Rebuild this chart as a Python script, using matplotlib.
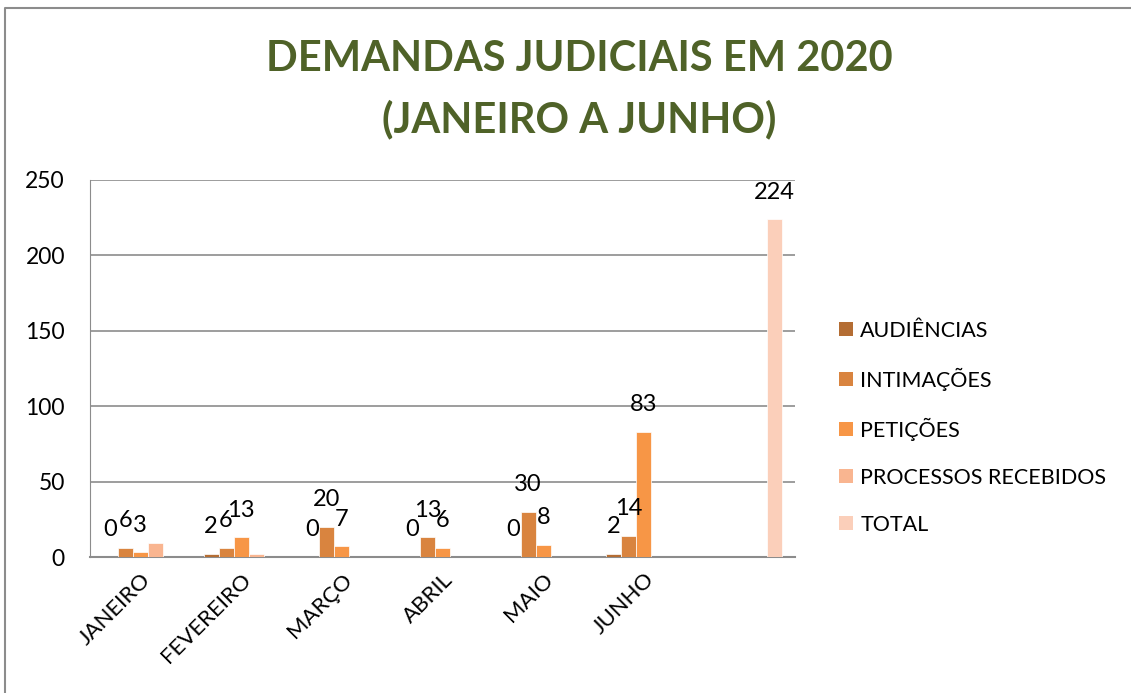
import numpy as np
import matplotlib
matplotlib.use("Agg")
import matplotlib.pyplot as plt
from matplotlib.patches import Patch
from matplotlib.lines import Line2D

plt.rcParams['font.family'] = ['Lato', 'DejaVu Sans']

categories = ["JANEIRO", "FEVEREIRO", "MARÇO", "ABRIL", "MAIO", "JUNHO", ""]
series_names = ["AUDIÊNCIAS", "INTIMAÇÕES", "PETIÇÕES", "PROCESSOS RECEBIDOS", "TOTAL"]
audiencias = [0, 2, 0, 0, 0, 2, np.nan]
intimacoes = [6, 6, 20, 13, 30, 14, np.nan]
peticoes = [3, 13, 7, 6, 8, 83, np.nan]
processos = [9, 2, np.nan, np.nan, np.nan, np.nan, np.nan]
total = [np.nan, np.nan, np.nan, np.nan, np.nan, np.nan, 224]
labeled = [True, True, True, False, True]
colors = ["#B46D33", "#D9843F", "#F79646", "#F9B590", "#FBCFBA"]
yticks = [0, 50, 100, 150, 200, 250]

W, H = 1131, 693
fig = plt.figure(figsize=(W / 100, H / 100), dpi=100)
ax = fig.add_axes([90 / W, (H - 557) / H, (795 - 90) / W, (557 - 180) / H])

data = [audiencias, intimacoes, peticoes, processos, total]
x = np.arange(len(categories))
bw = 0.149
for i, (vals, name, c) in enumerate(zip(data, series_names, colors)):
    pos = x + (i - 2) * bw
    v = np.array(vals, dtype=float)
    ax.bar(pos, v, width=bw, color=c, edgecolor='white', linewidth=0.5, label=name, zorder=3)
    if labeled[i]:
        for p, val in zip(pos, v):
            if not np.isnan(val):
                ax.annotate(f"{int(val)}", (p, val), xytext=(0, 12), textcoords='offset points',
                            ha='center', va='bottom', fontsize=17, color='black', zorder=4)

ax.set_xlim(-0.5, len(categories) - 0.5)
ax.set_ylim(0, 250)
ax.set_yticks(yticks)
ax.set_yticklabels([str(t) for t in yticks], fontsize=16.5)
ax.yaxis.grid(True, color='#8c8c8c', linewidth=1.2, zorder=0)
ax.set_axisbelow(True)
ax.set_xticks(x)
ax.set_xticklabels(categories, rotation=45, ha='right', rotation_mode='anchor', fontsize=16)
ax.tick_params(axis='x', length=0, pad=9)
ax.tick_params(axis='y', length=0, pad=18)
for s in ['top', 'right']:
    ax.spines[s].set_visible(False)
ax.spines['left'].set_color('#8c8c8c')
ax.spines['bottom'].set_color('#8c8c8c')
ax.spines['bottom'].set_linewidth(1.5)

fig.text(579 / W, 1 - 59 / H, "DEMANDAS JUDICIAIS EM 2020", ha='center', va='center',
         fontsize=30, fontweight='bold', color='#4F6228')
fig.text(579 / W, 1 - 119 / H, "(JANEIRO A JUNHO)", ha='center', va='center',
         fontsize=30, fontweight='bold', color='#4F6228')

handles = [Patch(facecolor=c, edgecolor='none') for c in colors]
fig.legend(handles, series_names, loc='upper left', bbox_to_anchor=(828 / W, 1 - 310 / H),
           frameon=False, fontsize=15.5, handlelength=0.65, handleheight=0.65,
           handletextpad=0.35, labelspacing=1.25, borderpad=0)

fig.add_artist(Line2D([5 / W, 5 / W, 1.0], [0.0, 1 - 8 / H, 1 - 8 / H],
                      transform=fig.transFigure, color='#8c8c8c', linewidth=1.5))

fig.savefig("out.png", dpi=100, facecolor='white')
